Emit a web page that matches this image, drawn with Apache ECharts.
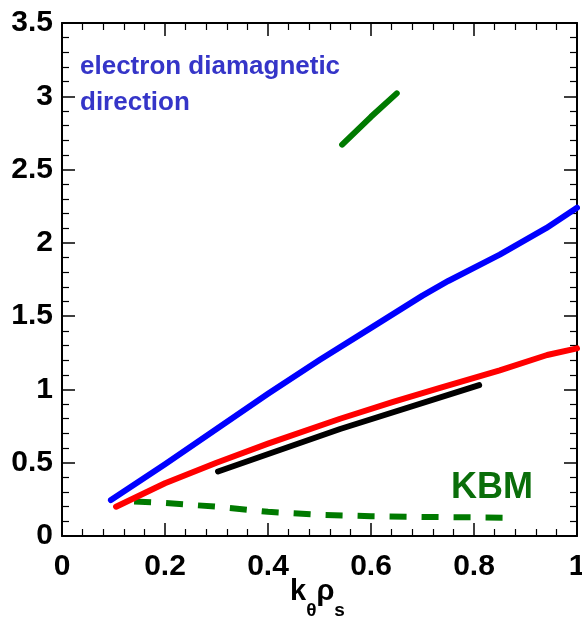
<!DOCTYPE html>
<html>
<head>
<meta charset="utf-8">
<script src="https://cdn.jsdelivr.net/npm/echarts@6/dist/echarts.min.js"></script>
<style>html,body{margin:0;padding:0;background:#fff}#c{width:582px;height:619px}</style>
</head>
<body>
<div id="c"></div>
<script>
var xTicks = [0, 0.2, 0.4, 0.6, 0.8, 1];
var yTicks = [0, 0.5, 1, 1.5, 2, 2.5, 3, 3.5];

var blueX = [0.095, 0.2, 0.3, 0.4, 0.5, 0.6, 0.7, 0.75, 0.85, 0.94, 1.0];
var blueY = [0.245, 0.49, 0.73, 0.97, 1.2, 1.42, 1.64, 1.74, 1.92, 2.1, 2.24];

var redX = [0.105, 0.2, 0.3, 0.4, 0.54, 0.643, 0.734, 0.85, 0.942, 1.0];
var redY = [0.2, 0.36, 0.5, 0.63, 0.8, 0.915, 1.01, 1.13, 1.235, 1.28];

var blackX = [0.303, 0.54, 0.81];
var blackY = [0.44, 0.73, 1.03];

var greenSolidX = [0.544, 0.6, 0.65];
var greenSolidY = [2.67, 2.86, 3.02];

var greenDashX = [0.14, 0.2, 0.3, 0.4, 0.5, 0.6, 0.7, 0.86];
var greenDashY = [0.235, 0.225, 0.2, 0.165, 0.145, 0.135, 0.13, 0.125];

function zip(xs, ys) { return xs.map(function (x, i) { return [x, ys[i]]; }); }

var FONT = 'Liberation Sans, Arial, sans-serif';
var chart = echarts.init(document.getElementById('c'), null, {renderer: 'canvas'});

function axisCommon() {
  return {
    axisLine: {show: true, onZero: false, lineStyle: {color: '#000', width: 2}},
    axisTick: {show: true, inside: true, length: 13, lineStyle: {color: '#000', width: 1.5}},
    minorTick: {show: true, splitNumber: 5, length: 7, lineStyle: {color: '#000', width: 1.2}},
    splitLine: {show: false},
    minorSplitLine: {show: false}
  };
}

var xBottom = Object.assign(axisCommon(), {
  type: 'value', position: 'bottom', min: 0, max: 1, interval: 0.2,
  axisLabel: {show: true, fontFamily: FONT, fontWeight: 'bold', fontSize: 30, color: '#000', margin: 16,
    hideOverlap: false, showMaxLabel: true, showMinLabel: true,
    formatter: function (v) { return String(+v.toFixed(1)); }}
});
var xTop = Object.assign(axisCommon(), {
  type: 'value', position: 'top', min: 0, max: 1, interval: 0.2, axisLabel: {show: false}
});
var yLeft = Object.assign(axisCommon(), {
  type: 'value', position: 'left', min: 0, max: 3.5, interval: 0.5,
  axisLabel: {show: true, fontFamily: FONT, fontWeight: 'bold', fontSize: 30, color: '#000', margin: 9,
    showMaxLabel: true, showMinLabel: true,
    formatter: function (v) { return String(+v.toFixed(1)); }}
});
var yRight = Object.assign(axisCommon(), {
  type: 'value', position: 'right', min: 0, max: 3.5, interval: 0.5, axisLabel: {show: false}
});

function lineSeries(data, color, dash) {
  return {
    type: 'line', xAxisIndex: 0, yAxisIndex: 0, data: data, showSymbol: false, symbol: 'none',
    smooth: false, animation: false, silent: true, clip: false,
    lineStyle: {color: color, width: 6, type: dash || 'solid', cap: dash ? 'butt' : 'round', join: 'round'}
  };
}

chart.setOption({
  animation: false,
  backgroundColor: '#fff',
  grid: {left: 62, right: 5, top: 23, bottom: 83, containLabel: false, outerBoundsMode: 'none'},
  xAxis: [xBottom, xTop],
  yAxis: [yLeft, yRight],
  series: [
    lineSeries(zip(greenDashX, greenDashY), '#007a00', [17, 15]),
    lineSeries(zip(greenSolidX, greenSolidY), '#007a00'),
    lineSeries(zip(blackX, blackY), '#000000'),
    lineSeries(zip(blueX, blueY), '#0000ff'),
    lineSeries(zip(redX, redY), '#ff0000')
  ],
  graphic: [
    {type: 'text', left: 80, top: 54, style: {text: 'electron diamagnetic', fontFamily: FONT, fontWeight: 'bold', fontSize: 26, fill: '#3535c8'}},
    {type: 'text', left: 80, top: 90, style: {text: 'direction', fontFamily: FONT, fontWeight: 'bold', fontSize: 26, fill: '#3535c8'}},
    {type: 'text', left: 451, top: 470, style: {text: 'KBM', fontFamily: FONT, fontWeight: 'bold', fontSize: 36, fill: '#0a6e0a'}},
    {type: 'text', left: 290, top: 564, style: {
      text: '{k|k}{s|θ}{k|ρ}{s|s}',
      rich: {
        k: {fontFamily: FONT, fontWeight: 'bold', fontSize: 29, fill: '#000', lineHeight: 56},
        s: {fontFamily: FONT, fontWeight: 'bold', fontSize: 19, fill: '#000', lineHeight: 19, padding: [37, 0, 0, 0]}
      }
    }}
  ]
});
</script>
</body>
</html>
